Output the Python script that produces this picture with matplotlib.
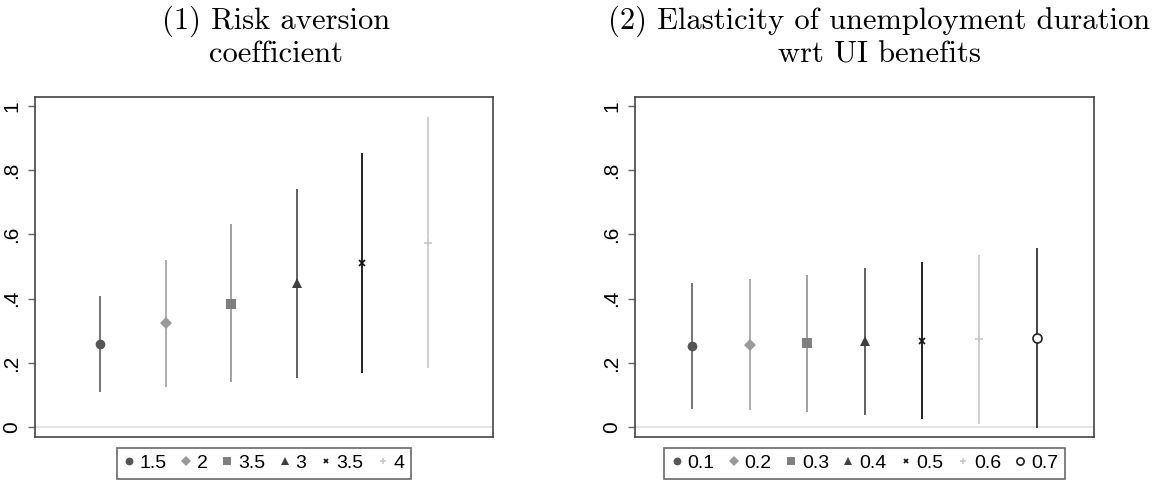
# Two panels of point estimates with confidence intervals (Stata-style)

import matplotlib
matplotlib.use('Agg')
import matplotlib.pyplot as plt
from matplotlib.lines import Line2D

# panel 1: risk aversion coefficient
risk_labels = ['1.5', '2', '3.5', '3', '3.5', '4']
risk_est = [0.260, 0.323, 0.385, 0.450, 0.511, 0.574]
risk_lo = [0.111, 0.126, 0.141, 0.154, 0.169, 0.183]
risk_hi = [0.409, 0.520, 0.631, 0.742, 0.852, 0.964]

# panel 2: elasticity of unemployment duration wrt UI benefits
elast_labels = ['0.1', '0.2', '0.3', '0.4', '0.5', '0.6', '0.7']
elast_est = [0.253, 0.257, 0.261, 0.267, 0.270, 0.274, 0.278]
elast_lo = [0.057, 0.054, 0.049, 0.038, 0.027, 0.012, -0.003]
elast_hi = [0.450, 0.461, 0.475, 0.494, 0.513, 0.536, 0.559]

# marker style, marker colour, line colour, marker size, fill
styles = [
    ('o', '#555555', '#6a6a6a', 7, True),
    ('D', '#9a9a9a', '#a8a8a8', 6.5, True),
    ('s', '#808080', '#9a9a9a', 6.5, True),
    ('^', '#404040', '#555555', 7, True),
    ('x', '#111111', '#111111', 4, True),
    ('+', '#c8c8c8', '#cccccc', 6, True),
    ('o', '#222222', '#333333', 6.5, False),
]

TICK_FONT = 'Liberation Sans'
TITLE_FONT = 'cmr10'


def draw_panel(ax, labels, est, lo, hi):
    n = len(labels)
    handles = []
    for i in range(n):
        m, mc, lc, ms, filled = styles[i]
        x = i + 1
        ax.vlines(x, lo[i], hi[i], color=lc, lw=1.3, zorder=2)
        kw = dict(marker=m, ms=ms, color=mc, ls='none', zorder=3)
        if m in ('x', '+'):
            kw['mew'] = 1.2
        elif not filled:
            kw.update(mfc='white', mec=mc, mew=1.2)
        else:
            kw['mew'] = 0
        ax.plot([x], [est[i]], **kw)
        hkw = dict(kw)
        hkw['ms'] = ms * 0.8
        handles.append(Line2D([], [], **hkw))

    ax.axhline(0, color='#e2e2e2', lw=1.3, zorder=1)
    ax.set_xlim(0, n + 1)
    ax.set_ylim(-0.029, 1.028)
    ax.set_xticks([])
    ax.set_yticks([0, 0.2, 0.4, 0.6, 0.8, 1])
    ax.set_yticklabels(['0', '.2', '.4', '.6', '.8', '1'], rotation=90,
                       va='center', fontfamily=TICK_FONT, fontsize=15)
    ax.tick_params(axis='y', length=5, width=1, color='#666666', pad=5)
    for sp in ax.spines.values():
        sp.set_color('#444444')
        sp.set_linewidth(1.2)

    leg = ax.legend(handles, labels, loc='upper center', bbox_to_anchor=(0.5, -0.015),
                    ncol=n, frameon=True, fancybox=False, handlelength=0.6,
                    handletextpad=0.25, columnspacing=0.7, borderpad=0.35,
                    borderaxespad=0.3, prop={'family': TICK_FONT, 'size': 14})
    leg.get_frame().set_edgecolor('#444444')
    leg.get_frame().set_linewidth(1.2)


fig = plt.figure(figsize=(11.66, 4.82), dpi=100)
ax1 = fig.add_axes([0.030, 0.094, 0.3928, 0.7054])
ax2 = fig.add_axes([0.5446, 0.094, 0.3937, 0.7054])

draw_panel(ax1, risk_labels, risk_est, risk_lo, risk_hi)
draw_panel(ax2, elast_labels, elast_est, elast_lo, elast_hi)

# titles centred over each graph region
fig.text(276 / 1166, 1 - 6 / 482, '(1) Risk aversion\ncoefficient', ha='center', va='top',
         fontfamily=TITLE_FONT, fontsize=22, linespacing=1.15)
fig.text(879 / 1166, 1 - 6 / 482, '(2) Elasticity of unemployment duration\nwrt UI benefits',
         ha='center', va='top', fontfamily=TITLE_FONT, fontsize=22, linespacing=1.15)

fig.savefig('out.png', dpi=100)
